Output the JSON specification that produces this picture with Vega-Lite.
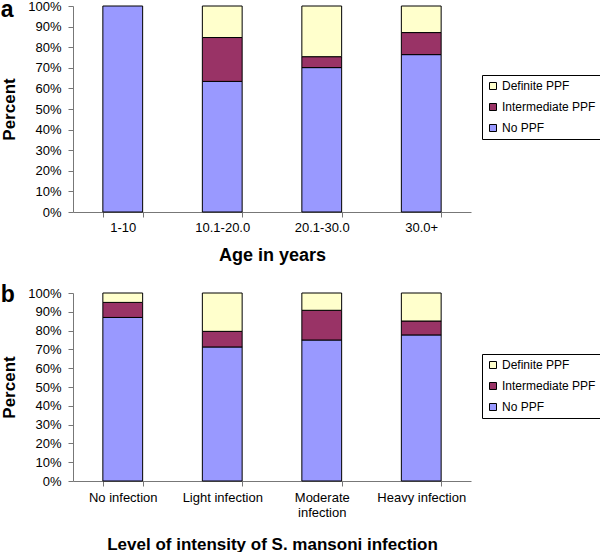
{
  "$schema": "https://vega.github.io/schema/vega-lite/v6.json",
  "padding": {"top": -1, "left": 0, "right": 0, "bottom": 0},
  "background": "white",
  "spacing": 20,
  "config": {
    "view": {"stroke": null},
    "font": "Liberation Sans",
    "axis": {
      "labelFont": "Liberation Sans",
      "titleFont": "Liberation Sans",
      "labelFontSize": 13,
      "labelColor": "#000",
      "titleFontSize": 17,
      "titleFontWeight": "bold",
      "titleColor": "#000",
      "domainColor": "#777",
      "tickColor": "#777",
      "tickSize": 5,
      "grid": false
    },
    "legend": {
      "labelFont": "Liberation Sans",
      "labelFontSize": 12,
      "labelColor": "#000",
      "symbolType": "square",
      "symbolSize": 49,
      "symbolStrokeColor": "#000",
      "symbolStrokeWidth": 1,
      "strokeColor": "#000",
      "fillColor": "#fff",
      "padding": 5,
      "rowPadding": 9,
      "labelOffset": 3
    },
    "title": {"font": "Liberation Sans", "fontSize": 23, "fontWeight": "bold", "color": "#000", "anchor": "start", "frame": "bounds"}
  },
  "datasets": {
    "age": [
      {"group": "1-10", "status": "No PPF", "pct": 100},
      {"group": "10.1-20.0", "status": "No PPF", "pct": 63.4},
      {"group": "10.1-20.0", "status": "Intermediate PPF", "pct": 21.3},
      {"group": "10.1-20.0", "status": "Definite PPF", "pct": 15.3},
      {"group": "20.1-30.0", "status": "No PPF", "pct": 70.1},
      {"group": "20.1-30.0", "status": "Intermediate PPF", "pct": 5.3},
      {"group": "20.1-30.0", "status": "Definite PPF", "pct": 24.6},
      {"group": "30.0+", "status": "No PPF", "pct": 76.4},
      {"group": "30.0+", "status": "Intermediate PPF", "pct": 10.7},
      {"group": "30.0+", "status": "Definite PPF", "pct": 12.9}
    ],
    "intensity": [
      {"group": "No infection", "status": "No PPF", "pct": 87.0},
      {"group": "No infection", "status": "Intermediate PPF", "pct": 8.0},
      {"group": "No infection", "status": "Definite PPF", "pct": 5.0},
      {"group": "Light infection", "status": "No PPF", "pct": 71.3},
      {"group": "Light infection", "status": "Intermediate PPF", "pct": 8.3},
      {"group": "Light infection", "status": "Definite PPF", "pct": 20.4},
      {"group": "Moderate infection", "status": "No PPF", "pct": 75.0},
      {"group": "Moderate infection", "status": "Intermediate PPF", "pct": 15.8},
      {"group": "Moderate infection", "status": "Definite PPF", "pct": 9.2},
      {"group": "Heavy infection", "status": "No PPF", "pct": 77.7},
      {"group": "Heavy infection", "status": "Intermediate PPF", "pct": 7.4},
      {"group": "Heavy infection", "status": "Definite PPF", "pct": 14.9}
    ]
  },
  "vconcat": [
    {
      "title": {"text": "a", "offset": -22, "dx": 0},
      "width": 398,
      "height": 206,
      "data": {"name": "age"},
      "mark": {"type": "bar", "stroke": "#000", "strokeWidth": 1},
      "encoding": {
        "x": {
          "field": "group", "type": "nominal", "sort": null,
          "scale": {"paddingInner": 0.6, "paddingOuter": 0.3},
          "axis": {"title": "Age in years", "labelAngle": 0, "tickBand": "extent", "labelPadding": 4, "titlePadding": 12, "titleFontSize": 18}
        },
        "y": {
          "field": "pct", "type": "quantitative", "stack": "zero",
          "scale": {"domain": [0, 100], "nice": false},
          "axis": {"title": "Percent", "values": [0,10,20,30,40,50,60,70,80,90,100], "labelExpr": "datum.value + '%'", "labelPadding": 7, "titlePadding": 9}
        },
        "color": {
          "field": "status", "type": "nominal",
          "scale": {"domain": ["Definite PPF", "Intermediate PPF", "No PPF"], "range": ["#FFFFCC", "#993366", "#9999FF"]},
          "legend": {"title": null, "orient": "none", "legendX": 409, "legendY": 69}
        },
        "order": {"field": "status", "sort": "descending"}
      }
    },
    {
      "title": {"text": "b", "offset": -20, "dx": 0},
      "width": 398,
      "height": 188,
      "data": {"name": "intensity"},
      "mark": {"type": "bar", "stroke": "#000", "strokeWidth": 1},
      "encoding": {
        "x": {
          "field": "group", "type": "nominal", "sort": null,
          "scale": {"paddingInner": 0.6, "paddingOuter": 0.3},
          "axis": {"title": "Level of intensity of S. mansoni infection", "labelAngle": 0, "tickBand": "extent", "labelPadding": 5, "titlePadding": 17, "titleFontSize": 17, "labelExpr": "datum.label == 'Moderate infection' ? ['Moderate', 'infection'] : datum.label"}
        },
        "y": {
          "field": "pct", "type": "quantitative", "stack": "zero",
          "scale": {"domain": [0, 100], "nice": false},
          "axis": {"title": "Percent", "values": [0,10,20,30,40,50,60,70,80,90,100], "labelExpr": "datum.value + '%'", "labelPadding": 7, "titlePadding": 9}
        },
        "color": {
          "field": "status", "type": "nominal",
          "scale": {"domain": ["Definite PPF", "Intermediate PPF", "No PPF"], "range": ["#FFFFCC", "#993366", "#9999FF"]},
          "legend": {"title": null, "orient": "none", "legendX": 409, "legendY": 61}
        },
        "order": {"field": "status", "sort": "descending"}
      }
    }
  ],
  "resolve": {"scale": {"color": "independent"}, "legend": {"color": "independent"}}
}
